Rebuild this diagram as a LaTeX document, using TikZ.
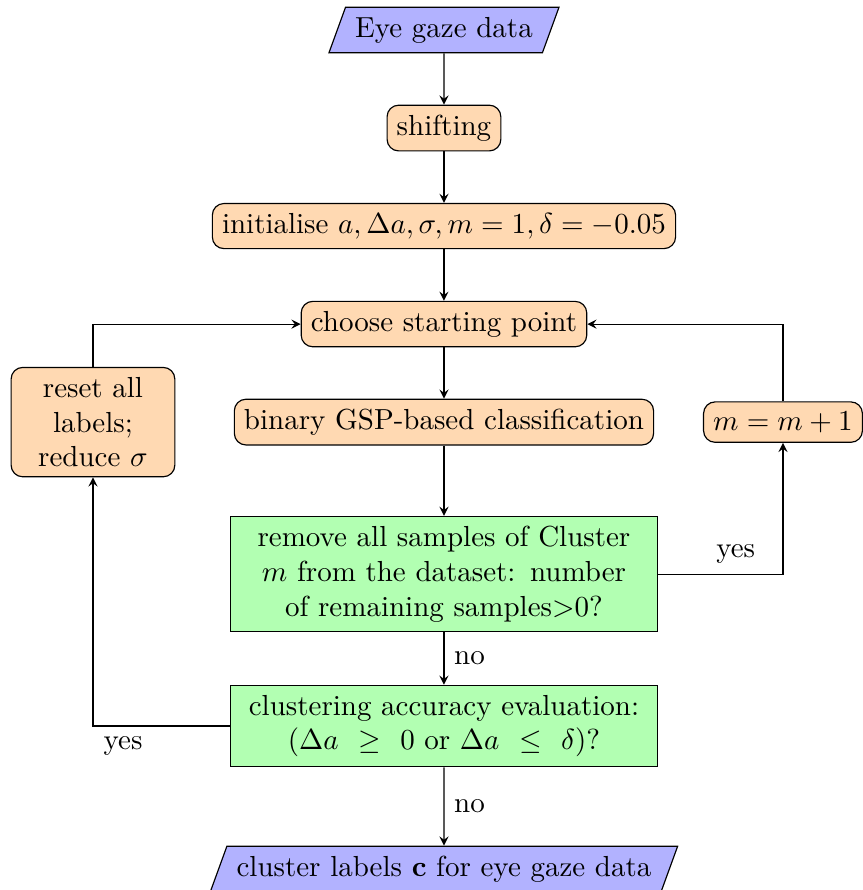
\documentclass[tikz,border=0pt]{standalone}
\usepackage{amsmath,amsfonts,amssymb}
\usepackage{tikz}
\usetikzlibrary{shapes.geometric,arrows}

\begin{document}
\begin{tikzpicture}[node distance=1.188cm,
  io/.style={trapezium, trapezium left angle=70, trapezium right angle=110, draw, fill=blue!30, text centered},
  process/.style={rectangle, rounded corners, draw, fill=orange!30, text centered},
  decision/.style={rectangle, draw, fill=green!30, text width=4.95cm, align=center},
  flow/.style={->, >=stealth}]
\useasboundingbox (-5.381,0.364) rectangle (5.078,-10.423);
\node[io] (gaze) at (0,0) {Eye gaze data};
\node[process, below of=gaze] (shift) {shifting};
\node[process, below of=shift] (init) {initialise $a, \Delta a, \sigma, m=1, \delta=-0.05$};
\node[process, below of=init] (start) {choose starting point};
\node[process, below of=start] (classify) {binary GSP-based classification};
\node[process, text width=1.75cm, align=center, left of=classify, xshift=-3.066cm] (reset) {reset all labels; reduce $\sigma$};
\node[process, right of=classify, xshift=2.921cm] (incr) {$m=m+1$};
\node[decision, below of=classify, yshift=-0.654cm] (remove) {remove all samples of Cluster $m$ from the dataset: number of remaining samples$>$0?};
\node[decision, below of=remove, yshift=-0.654cm] (clust) {clustering accuracy evaluation:\\ ($\Delta a\,\geq\,0$ or $\Delta a\,\leq\,\delta$)?};
\node[io, below of=clust, yshift=-0.545cm] (out) {cluster labels $\mathbf{c}$ for eye gaze data};
% main column
\draw[flow] (gaze) -- (shift);
\draw[flow] (shift) -- (init);
\draw[flow] (init) -- (start);
\draw[flow] (start) -- (classify);
\draw[flow] (classify) -- (remove);
\draw[flow] (remove) -- node[right] {no} (clust);
\draw[flow] (clust) -- node[right] {no} (out);
% loops
\draw[flow] (remove.east) -| node[above, pos=0.31] {yes} (incr.south);
\draw[flow] (incr.north) |- (start.east);
\draw[flow] (clust.west) -| node[below, pos=0.39] {yes} (reset.south);
\draw[flow] (reset.north) |- (start.west);
\end{tikzpicture}
\end{document}
